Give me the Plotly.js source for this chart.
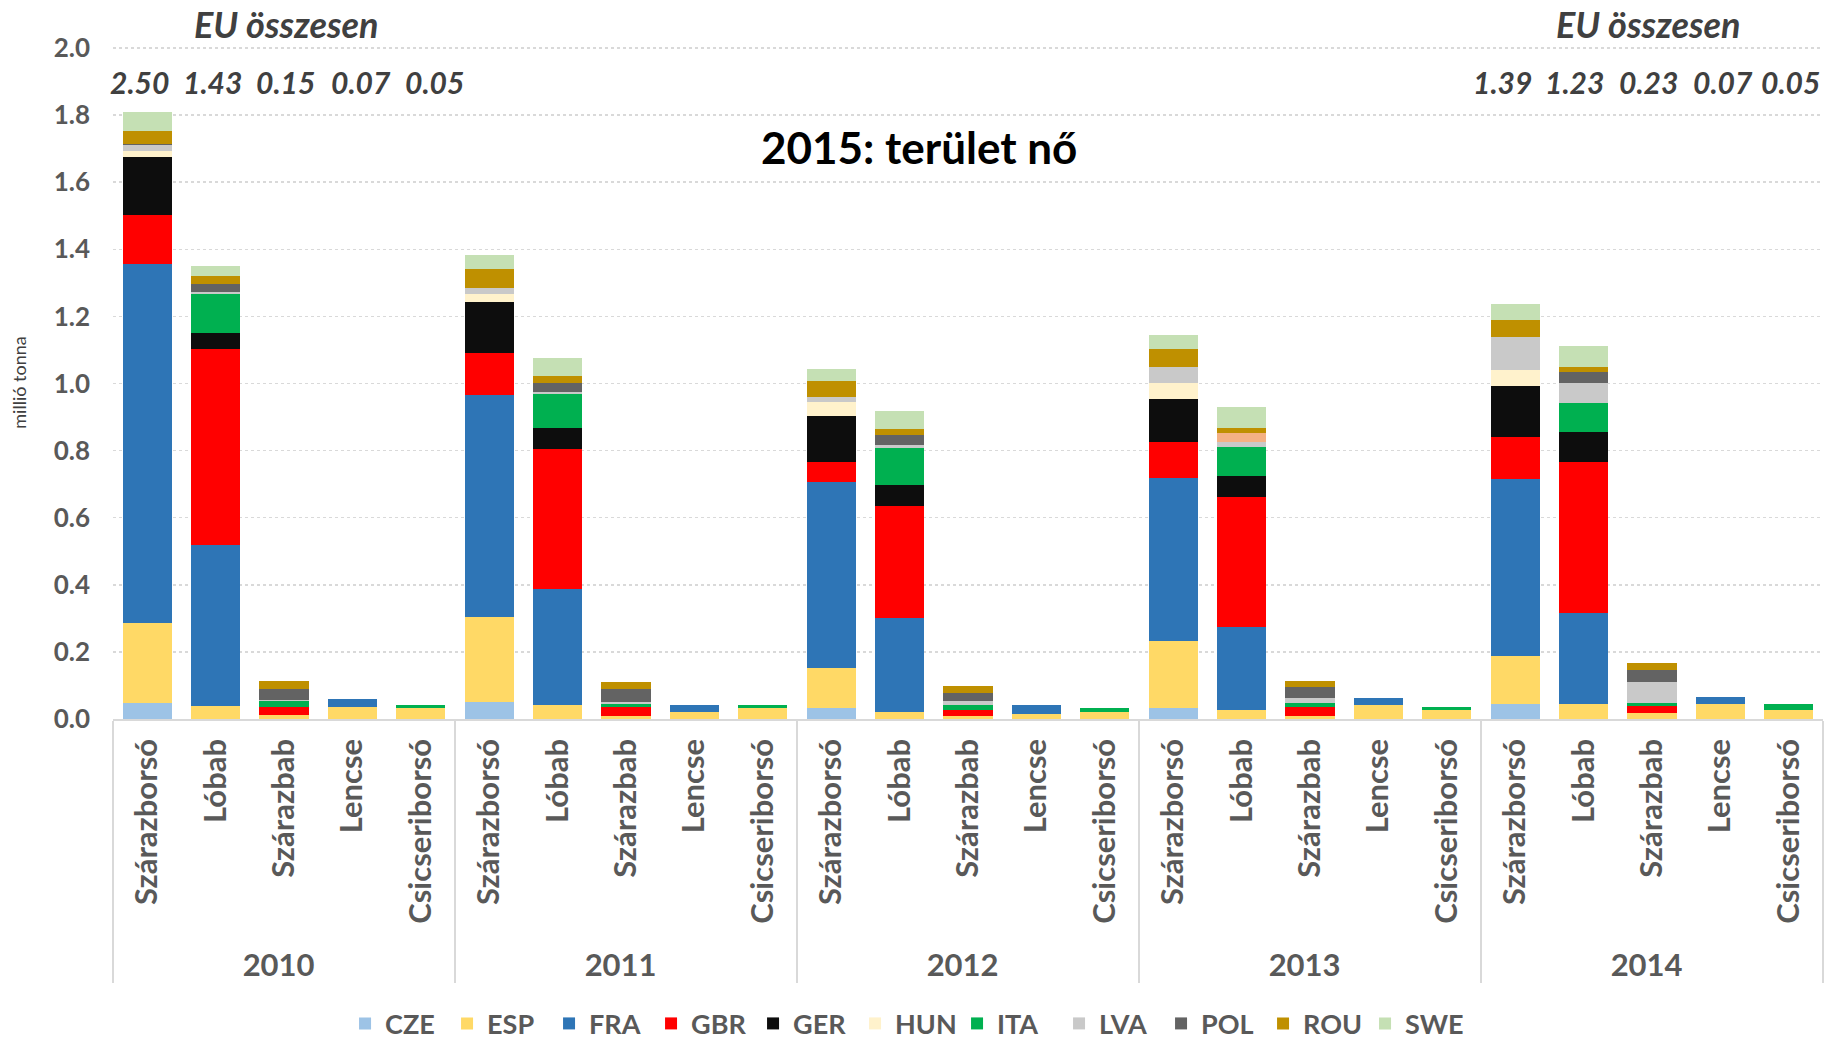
<!DOCTYPE html>
<html>
<head>
<meta charset="utf-8">
<script src="https://cdn.plot.ly/plotly-3.0.1.min.js"></script>
<style>
  html, body { margin: 0; padding: 0; background: #ffffff; }
  #chart { width: 1829px; height: 1039px; }
</style>
</head>
<body>
<div id="chart"></div>
<script>
// ---------- DATA ----------
const years = ['2010', '2011', '2012', '2013', '2014'];
const crops = ['Szárazborsó', 'Lóbab', 'Szárazbab', 'Lencse', 'Csicseriborsó'];
const countries = ['CZE', 'ESP', 'FRA', 'GBR', 'GER', 'HUN', 'ITA', 'LVA', 'POL', 'ROU', 'SWE'];

// values in million tonnes, order: for each year -> crops in the order above
const CZE = [0.049,0,0,0,0,  0.052,0,0,0,0,  0.032,0,0,0,0,  0.032,0,0,0,0,  0.044,0,0,0,0];
const ESP = [0.238,0.038,0.012,0.037,0.032,  0.253,0.042,0.010,0.021,0.032,  0.119,0.021,0.010,0.016,0.022,  0.201,0.027,0.009,0.042,0.027,  0.144,0.044,0.018,0.044,0.028];
const FRA = [1.070,0.482,0,0.022,0,  0.661,0.346,0,0.022,0,  0.556,0.280,0,0.026,0,  0.485,0.248,0,0.021,0,  0.527,0.273,0,0.021,0];
const GBR = [0.144,0.584,0.025,0,0,  0.124,0.418,0.027,0,0,  0.058,0.335,0.017,0,0,  0.109,0.386,0.028,0,0,  0.125,0.450,0.021,0,0];
const GER = [0.174,0.046,0,0,0,  0.154,0.061,0,0,0,  0.138,0.061,0,0,0,  0.128,0.062,0,0,0,  0.153,0.087,0,0,0];
const HUN = [0.017,0,0,0,0,  0.022,0,0,0,0,  0.042,0,0,0,0,  0.046,0,0,0,0,  0.046,0,0,0,0];
const ITA = [0,0.117,0.017,0,0.011,  0,0.103,0.009,0,0.011,  0,0.110,0.016,0,0.010,  0,0.087,0.010,0,0.009,  0,0.087,0.010,0,0.016];
const LVA = [0.020,0.006,0.002,0,0,  0.020,0.006,0.006,0,0,  0.016,0.010,0.010,0,0,  0.047,0.016,0.016,0,0,  0.099,0.062,0.061,0,0];
const POL = [0.003,0.025,0.033,0,0,  0,0.025,0.036,0,0,  0,0.030,0.026,0,0,  0,0.026,0.031,0,0,  0,0.032,0.036,0,0];
const ROU = [0.039,0.021,0.023,0,0,  0.055,0.021,0.021,0,0,  0.046,0.016,0.020,0,0,  0.056,0.016,0.019,0,0,  0.052,0.015,0.021,0,0];
const SWE = [0.054,0.032,0,0,0,  0.043,0.053,0,0,0,  0.037,0.056,0,0,0,  0.042,0.061,0,0,0,  0.047,0.062,0,0,0];

// EU totals written above the first and last year groups
const euTotals2010 = ['2.50', '1.43', '0.15', '0.07', '0.05'];
const euTotals2014 = ['1.39', '1.23', '0.23', '0.07', '0.05'];

// ---------- BUILD ----------
const series = {CZE, ESP, FRA, GBR, GER, HUN, ITA, LVA, POL, ROU, SWE};
const colors = {
  CZE: '#9DC3E6', ESP: '#FFD966', FRA: '#2E75B6', GBR: '#FF0000', GER: '#0D0D0D',
  HUN: '#FFF2CC', ITA: '#00B050', LVA: '#C9C9C9', POL: '#636363', ROU: '#BF9000', SWE: '#C5E0B4'
};

const xYear = [], xCrop = [];
years.forEach(y => crops.forEach(c => { xYear.push(y); xCrop.push(c); }));

const FONT = 'Lato, "Open Sans", "DejaVu Sans", sans-serif';
const GREY = '#595959';

const traces = countries.map(name => {
  let mcolor = colors[name];
  if (name === 'POL') {
    // the 2013 Lóbab segment of this layer is drawn in a peach tone in the source
    const peachIdx = years.indexOf('2013') * crops.length + crops.indexOf('Lóbab');
    mcolor = series[name].map((v, i) => i === peachIdx ? '#F4B183' : colors[name]);
  }
  return {
    type: 'bar',
    name: name,
    x: [xYear, xCrop],
    y: series[name],
    marker: { color: mcolor, line: { width: 0 } },
    hoverinfo: 'x+y+name'
  };
});

const annotations = [];
const leftX = [0.0157, 0.058, 0.101, 0.1453, 0.188];
const rightX = [0.8124, 0.8547, 0.8977, 0.9413, 0.981];
euTotals2010.forEach((t, i) => annotations.push({
  xref: 'paper', yref: 'y', x: leftX[i], y: 1.9, xanchor: 'center', yanchor: 'middle',
  text: '<i><b>' + t + '</b></i>',
  showarrow: false, font: { family: FONT, size: 30, color: '#404040' }
}));
euTotals2014.forEach((t, i) => annotations.push({
  xref: 'paper', yref: 'y', x: rightX[i], y: 1.9, xanchor: 'center', yanchor: 'middle',
  text: '<i><b>' + t + '</b></i>',
  showarrow: false, font: { family: FONT, size: 30, color: '#404040' }
}));
[0.1016, 0.8977].forEach(px => annotations.push({
  xref: 'paper', yref: 'paper', x: px, y: 1.033, xanchor: 'center', yanchor: 'middle',
  text: '<i><b>EU összesen</b></i>',
  showarrow: false, font: { family: FONT, size: 36, color: '#404040' }
}));
annotations.push({
  xref: 'paper', yref: 'y', x: 0.4714, y: 1.704, xanchor: 'center', yanchor: 'middle',
  text: '<b>2015: terület nő</b>',
  showarrow: false, font: { family: FONT, size: 44, color: '#000000' }
});

const layout = {
  width: 1829, height: 1039,
  margin: { l: 113, r: 6, t: 46, b: 320, autoexpand: false },
  paper_bgcolor: '#ffffff', plot_bgcolor: '#ffffff',
  barmode: 'stack',
  bargap: 0.28,
  showlegend: true,
  legend: {
    orientation: 'h', x: 0.1357, xanchor: 'left', y: -0.453, yanchor: 'middle',
    font: { family: FONT, size: 27, color: GREY, weight: 'bold' },
    itemwidth: 30, entrywidth: 57, entrywidthmode: 'pixels',
    traceorder: 'normal', itemclick: false
  },
  xaxis: {
    type: 'multicategory',
    tickangle: -90,
    tickfont: { family: FONT, size: 31, color: GREY, weight: 'bold' },
    ticklabelstandoff: 6,
    showline: true, linecolor: '#D9D9D9', linewidth: 1.5,
    showdividers: true, dividercolor: '#D9D9D9', dividerwidth: 1.5,
    ticks: '', showgrid: false, automargin: false
  },
  yaxis: {
    range: [0, 2.006],
    tickvals: [0, 0.2, 0.4, 0.6, 0.8, 1.0, 1.2, 1.4, 1.6, 1.8, 2.0],
    ticktext: ['0.0', '0.2', '0.4', '0.6', '0.8', '1.0', '1.2', '1.4', '1.6', '1.8', '2.0'],
    tickfont: { family: FONT, size: 26, color: GREY, weight: 'bold' },
    ticklabelstandoff: 22,
    showgrid: true, gridcolor: '#D9D9D9', gridwidth: 1.5, griddash: 'dot',
    zeroline: false, showline: false, automargin: false,
    title: { text: 'millió tonna', font: { family: FONT, size: 18, color: '#404040' }, standoff: 22 }
  },
  annotations: annotations,
  font: { family: FONT }
};

Plotly.newPlot('chart', traces, layout, { displayModeBar: false, staticPlot: true });
</script>
</body>
</html>
